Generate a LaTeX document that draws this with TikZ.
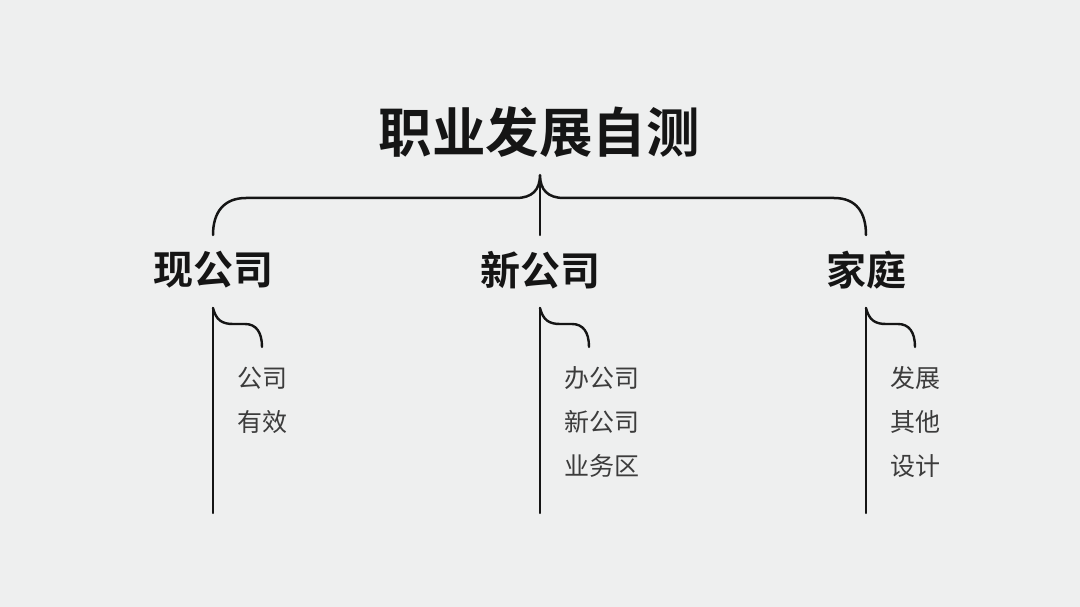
\documentclass[tikz,border=0pt]{standalone}
\usepackage{fontspec}
\newfontfamily\cjkb{Noto Sans CJK SC Bold}
\newfontfamily\cjk{Noto Sans CJK SC}
\definecolor{bg}{HTML}{EEEFEF}
\definecolor{ink}{HTML}{151515}
\definecolor{itemc}{HTML}{3C3C3C}
\tikzset{
  titletext/.style={font=\cjkb\fontsize{53.5}{60}\selectfont, text=ink, inner sep=0pt},
  cattext/.style={font=\cjkb\fontsize{40}{44}\selectfont, text=ink, inner sep=0pt},
  itemtext/.style={font=\cjk\fontsize{25}{30}\selectfont, text=itemc, inner sep=0pt, anchor=west},
  bline/.style={draw=ink, line width=2.5pt, line cap=round},
  sline/.style={draw=ink, line width=2.4pt, line cap=round},
}
\begin{document}
\begin{tikzpicture}[x=1pt,y=-1pt]
\fill[bg] (0,0) rectangle (1080,607);
\useasboundingbox (0,0) rectangle (1080,607);
% title
\node[titletext] (title) at (539,132) {职业发展自测};
% categories
\node[cattext] (c1) at (213,270) {现公司};
\node[cattext] (c2) at (540,270) {新公司};
\node[cattext] (c3) at (866,270) {家庭};
% brace coordinates
\coordinate (tip) at (540,175);
\coordinate (b1) at (213,235);
\coordinate (b2) at (540,235);
\coordinate (b3) at (866,235);
\draw[bline] (b1) .. controls (213,212) and (224,198) .. (246,198) -- (516,198)
  .. controls (532,198) and (540,190) .. (tip)
  .. controls (540,190) and (548,198) .. (564,198) -- (834,198)
  .. controls (856,198) and (866,212) .. (b3);
\draw[bline] (tip) -- (b2);
% sub brackets
\foreach \n/\x in {1/213,2/540,3/866}{
  \coordinate (s\n top) at (\x,308);
  \coordinate (s\n bot) at (\x,513);
  \coordinate (s\n hook) at ({\x+49},347);
  \draw[sline] (s\n top) -- (s\n bot);
  \draw[sline] (s\n top) .. controls ({\x+3},320) and ({\x+9},324) .. ({\x+20},324)
    -- ({\x+32},324) .. controls ({\x+43},324) and ({\x+49},332) .. (s\n hook);
}
% items
\node[itemtext] (i11) at (237,378) {公司};
\node[itemtext] (i12) at (237,422) {有效};
\node[itemtext] (i21) at (564,378) {办公司};
\node[itemtext] (i22) at (564,422) {新公司};
\node[itemtext] (i23) at (564,466) {业务区};
\node[itemtext] (i31) at (890,378) {发展};
\node[itemtext] (i32) at (890,422) {其他};
\node[itemtext] (i33) at (890,466) {设计};
\end{tikzpicture}
\end{document}
